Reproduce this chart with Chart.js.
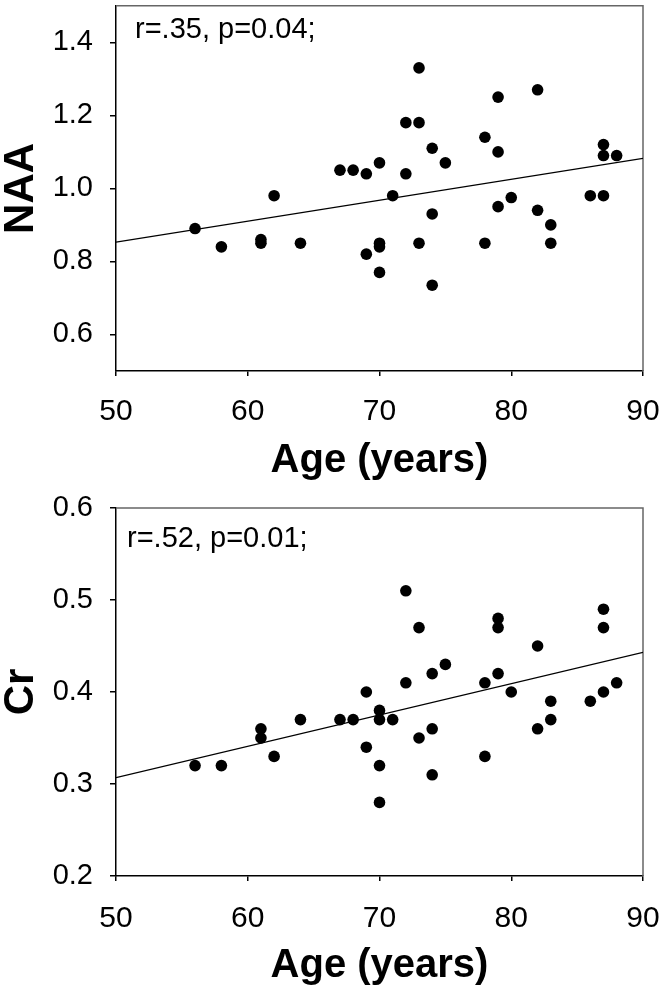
<!DOCTYPE html>
<html><head><meta charset="utf-8">
<script src="https://cdn.jsdelivr.net/npm/chart.js@4.4.1/dist/chart.umd.min.js"></script>
<style>
html,body{margin:0;padding:0;background:#fff;width:664px;height:992px;overflow:hidden;position:relative;}
canvas{position:absolute;left:0;}
#c1{top:0;}
#c2{top:480px;}
</style></head><body>
<canvas id="c1" width="664" height="496"></canvas>
<canvas id="c2" width="664" height="512"></canvas>
<script>
// ---- data ----
const xTickValues = [50, 60, 70, 80, 90];

const naaAge    = [56, 58, 61, 61, 62, 64, 67, 68, 69, 69, 70, 70, 70, 70, 71, 72, 72, 73, 73, 73, 74, 74, 74, 75, 78, 78, 79, 79, 79, 80, 82, 82, 83, 83, 86, 87, 87, 87, 88];
const naaValues = [0.89, 0.84, 0.86, 0.85, 0.98, 0.85, 1.05, 1.05, 1.04, 0.82, 1.07, 0.85, 0.84, 0.77, 0.98, 1.18, 1.04, 1.33, 1.18, 0.85, 1.11, 0.93, 0.735, 1.07, 1.14, 0.85, 1.25, 1.10, 0.95, 0.975, 1.27, 0.94, 0.90, 0.85, 0.98, 1.12, 1.09, 0.98, 1.09];
const naaTrendAge    = [50, 90];
const naaTrendValues = [0.853, 1.082];
const naaTickValues  = [0.6, 0.8, 1.0, 1.2, 1.4];
const naaNote = 'r=.35, p=0.04;';

const crAge    = [72, 87, 79, 73, 79, 87, 82, 75, 74, 79, 72, 78, 88, 80, 69, 87, 83, 86, 70, 64, 67, 68, 70, 71, 83, 61, 74, 82, 61, 73, 69, 62, 78, 56, 58, 70, 74, 70];
const crValues = [0.51, 0.49, 0.48, 0.47, 0.47, 0.47, 0.45, 0.43, 0.42, 0.42, 0.41, 0.41, 0.41, 0.40, 0.40, 0.40, 0.39, 0.39, 0.38, 0.37, 0.37, 0.37, 0.37, 0.37, 0.37, 0.36, 0.36, 0.36, 0.35, 0.35, 0.34, 0.33, 0.33, 0.32, 0.32, 0.32, 0.31, 0.28];
const crTrendAge    = [50, 90];
const crTrendValues = [0.307, 0.443];
const crTickValues  = [0.2, 0.3, 0.4, 0.5, 0.6];
const crNote = 'r=.52, p=0.01;';

const xTitle = 'Age (years)';

// ---- rendering ----
const FONT = "'Liberation Sans', Arial, Helvetica, sans-serif";

const framePlugin = {
  id: 'frame',
  beforeDatasetsDraw(chart, args, opts) {
    const {ctx, chartArea: a} = chart;
    ctx.save();
    ctx.strokeStyle = opts.color;
    ctx.lineWidth = opts.width;
    ctx.beginPath();
    ctx.moveTo(a.left, a.top);
    ctx.lineTo(a.right, a.top);
    ctx.lineTo(a.right, a.bottom);
    ctx.stroke();
    ctx.restore();
  }
};
const notePlugin = {
  id: 'note',
  afterDatasetsDraw(chart, args, opts) {
    const {ctx, chartArea: a} = chart;
    ctx.save();
    ctx.font = opts.font;
    ctx.fillStyle = '#000';
    ctx.textBaseline = 'alphabetic';
    ctx.textAlign = 'left';
    ctx.fillText(opts.text, a.left + opts.dx, a.top + opts.dy);
    ctx.restore();
  }
};

function makeChart(id, ages, vals, tAge, tVals, yTicks, yMin, yMax, yTitle, note, lay) {
  const pts = ages.map((a, i) => ({x: a, y: vals[i]}));
  const trend = tAge.map((a, i) => ({x: a, y: tVals[i]}));
  return new Chart(document.getElementById(id), {
    type: 'scatter',
    data: {
      datasets: [
        {data: pts, backgroundColor: '#000', borderWidth: 0, pointRadius: 5.8, pointHoverRadius: 5.8},
        {data: trend, showLine: true, borderColor: '#000', borderWidth: 1.3, pointRadius: 0, fill: false}
      ]
    },
    options: {
      responsive: false,
      animation: false,
      devicePixelRatio: 1,
      layout: {padding: {top: lay.top, left: 0, right: 21, bottom: 0}},
      plugins: {
        legend: {display: false},
        tooltip: {enabled: false},
        frame: {color: '#666', width: 1.5},
        note: {text: note, font: '29px ' + FONT, dx: lay.noteDx, dy: lay.noteDy}
      },
      scales: {
        x: {
          type: 'linear', min: 50, max: 90,
          afterBuildTicks: (ax) => { ax.ticks = xTickValues.map(v => ({value: v})); },
          afterFit: (s) => { s.height = lay.xHeight; s.paddingLeft = 0; s.paddingRight = 0; },
          ticks: {color: '#000', font: {family: FONT, size: 30}, padding: lay.xPad, maxRotation: 0},
          grid: {display: true, drawOnChartArea: false, drawTicks: true, tickLength: 5, color: '#000', lineWidth: 1.5},
          border: {display: true, color: '#000', width: 1.5},
          title: {display: true, text: xTitle, color: '#000', font: {family: FONT, size: 40, weight: 'bold', lineHeight: 1}, padding: {top: 0, bottom: lay.xTitlePad}}
        },
        y: {
          type: 'linear', min: yMin, max: yMax,
          afterBuildTicks: (ax) => { ax.ticks = yTicks.map(v => ({value: v})); },
          afterFit: (s) => { s.width = 116; s.paddingTop = 0; s.paddingBottom = 0; },
          ticks: {color: '#000', font: {family: FONT, size: 29}, padding: 17, callback: (v) => v.toFixed(1)},
          grid: {display: true, drawOnChartArea: false, drawTicks: true, tickLength: 6, color: '#000', lineWidth: 1.5},
          border: {display: true, color: '#000', width: 1.5},
          title: {display: true, text: yTitle, color: '#000', font: {family: FONT, size: 42, weight: 'bold', lineHeight: 1}, padding: {top: 0.5, bottom: 0}}
        }
      }
    },
    plugins: [framePlugin, notePlugin]
  });
}

makeChart('c1', naaAge, naaValues, naaTrendAge, naaTrendValues, naaTickValues, 0.5, 1.5, 'NAA', naaNote,
  {top: 5, xHeight: 125, xPad: 18, xTitlePad: 15, noteDx: 19, noteDy: 32});
makeChart('c2', crAge, crValues, crTrendAge, crTrendValues, crTickValues, 0.2, 0.6, 'Cr', crNote,
  {top: 28, xHeight: 116, xPad: 20, xTitlePad: 6, noteDx: 11, noteDy: 39});
</script>
</body></html>
